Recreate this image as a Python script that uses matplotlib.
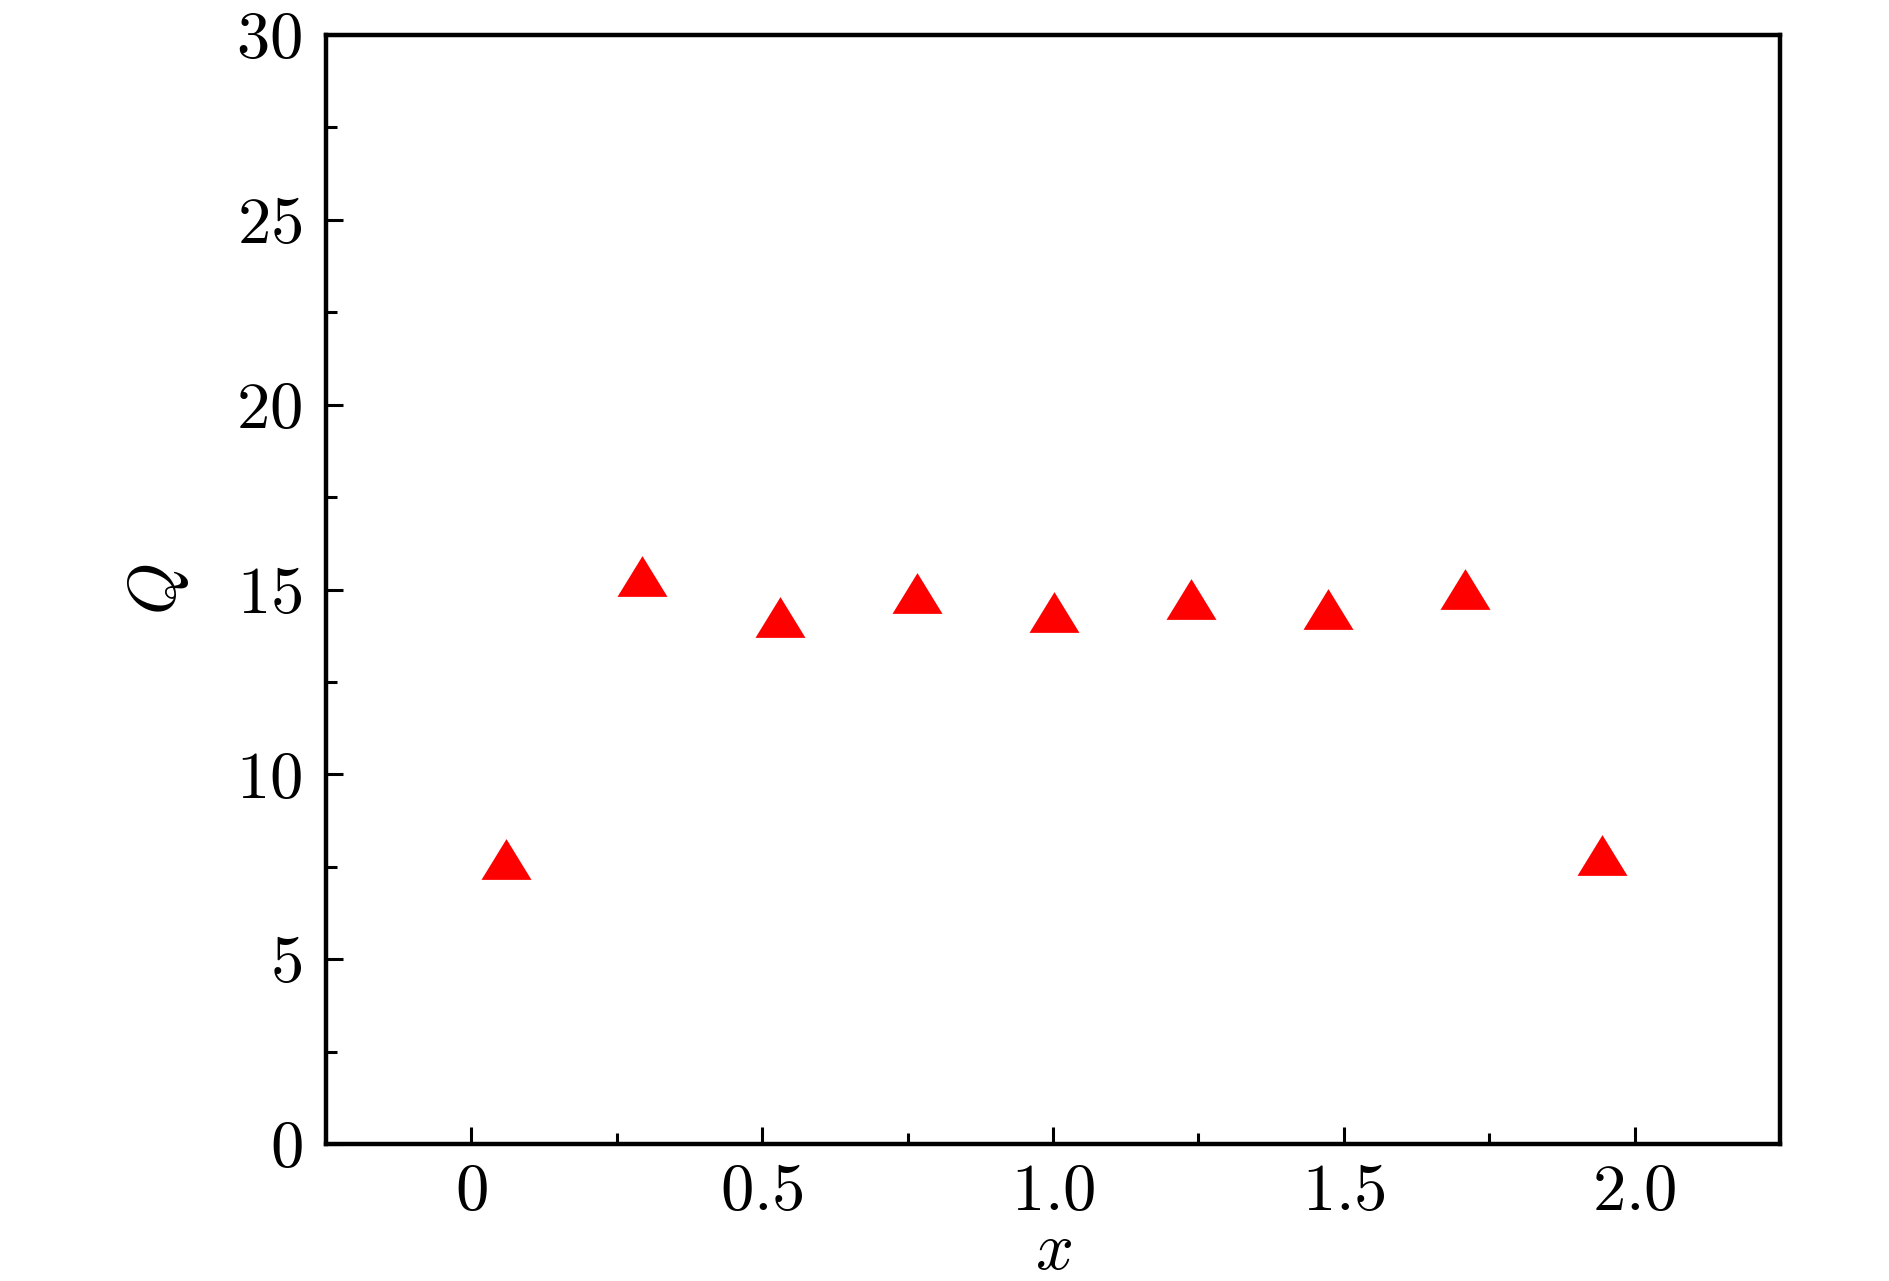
import matplotlib
matplotlib.use("Agg")
import matplotlib.pyplot as plt
from matplotlib.path import Path
from matplotlib.ticker import MultipleLocator, FixedLocator

plt.rcParams['mathtext.fontset'] = 'cm'
plt.rcParams['font.family'] = 'serif'
plt.rcParams['font.serif'] = ['cmr10', 'DejaVu Serif']
plt.rcParams['axes.formatter.use_mathtext'] = True

# Data
x_vals = [0.060, 0.294, 0.530, 0.766, 1.001, 1.237, 1.472, 1.708, 1.944]
q_vals = [7.71, 15.37, 14.26, 14.90, 14.40, 14.73, 14.48, 15.02, 7.81]
x_ticks = [0, 0.5, 1.0, 1.5, 2.0]
x_tick_labels = ['$0$', '$0.5$', '$1.0$', '$1.5$', '$2.0$']
y_ticks = [0, 5, 10, 15, 20, 25, 30]
y_tick_labels = ['$0$', '$5$', '$10$', '$15$', '$20$', '$25$', '$30$']

fig = plt.figure(figsize=(18.9, 12.81), dpi=100)
ax = fig.add_axes([0.1725, 0.1069, 0.7693, 0.8658])

tri = Path([(-1, -0.815), (1, -0.815), (0, 0.815), (-1, -0.815)],
           [Path.MOVETO, Path.LINETO, Path.LINETO, Path.CLOSEPOLY])
ax.plot(x_vals, q_vals, linestyle='none', marker=tri, markersize=36,
        color='#ff0000', markeredgewidth=0)

ax.set_xlim(-0.25, 2.25)
ax.set_ylim(0, 30)

ax.xaxis.set_major_locator(FixedLocator(x_ticks))
ax.set_xticklabels(x_tick_labels)
ax.xaxis.set_minor_locator(FixedLocator([0.25, 0.75, 1.25, 1.75]))
ax.yaxis.set_major_locator(FixedLocator(y_ticks))
ax.set_yticklabels(y_tick_labels)
ax.yaxis.set_minor_locator(MultipleLocator(2.5))

for s in ax.spines.values():
    s.set_linewidth(3.2)

ax.tick_params(which='both', direction='in', top=False, right=False,
               labelsize=48, width=2.2)
ax.tick_params(axis='x', which='both', pad=14)
ax.tick_params(axis='y', which='both', pad=17)
ax.tick_params(which='major', length=12)
ax.tick_params(which='minor', length=8)

ax.set_xlabel('$x$', fontsize=48)
ax.set_ylabel('$Q$', fontsize=48)
ax.xaxis.set_label_coords(0.5, -0.071)
ax.yaxis.set_label_coords(-0.093, 0.5)

fig.savefig('out.png', dpi=100)
